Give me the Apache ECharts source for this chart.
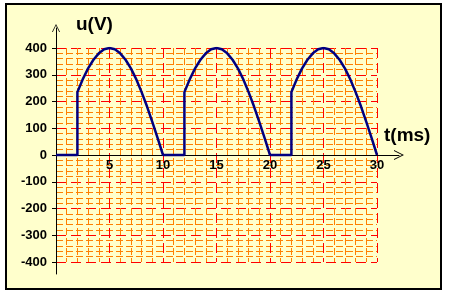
<!DOCTYPE html>
<html>
<head>
<meta charset="utf-8">
<script src="https://cdn.jsdelivr.net/npm/echarts@6/dist/echarts.min.js"></script>
<style>
  html, body { margin: 0; padding: 0; background: #fff; }
  #box {
    position: absolute; left: 5px; top: 3px; width: 433px; height: 283px;
    border: 2px solid #000; background: #ffffcc;
  }
  #chart { position: absolute; left: 0; top: 0; width: 452px; height: 294px; }
</style>
</head>
<body>
<div id="box"></div>
<div id="chart"></div>
<script>
// tick values
const xTicks = [0, 5, 10, 15, 20, 25, 30];
const yTicks = [-400, -300, -200, -100, 0, 100, 200, 300, 400];

// u(t), t in ms, u in V
const times = [
  0, 2, 2, 2.5, 3, 3.5, 4, 4.5, 5, 5.5, 6, 6.5, 7, 7.5, 8, 8.5, 9, 9.5, 10,
  12, 12, 12.5, 13, 13.5, 14, 14.5, 15, 15.5, 16, 16.5, 17, 17.5, 18, 18.5, 19, 19.5, 20,
  22, 22, 22.5, 23, 23.5, 24, 24.5, 25, 25.5, 26, 26.5, 27, 27.5, 28, 28.5, 29, 29.5, 30
];
const volts = [
  0, 0, 235, 283, 324, 356, 380, 395, 400, 395, 380, 356, 324, 283, 235, 182, 124, 63, 0,
  0, 235, 283, 324, 356, 380, 395, 400, 395, 380, 356, 324, 283, 235, 182, 124, 63, 0,
  0, 235, 283, 324, 356, 380, 395, 400, 395, 380, 356, 324, 283, 235, 182, 124, 63, 0
];

const font = "'Liberation Sans', Arial, sans-serif";
const chevron = 'path://M0,10 L5,0 L10,10 L9,10 L5,2 L1,10 Z';

const chart = echarts.init(document.getElementById('chart'));

const xMin = xTicks[0], xMax = xTicks[xTicks.length - 1];
const yMin = yTicks[0], yMax = yTicks[yTicks.length - 1];

chart.setOption({
  backgroundColor: 'transparent',
  animation: false,
  title: [
    { text: 'u(V)', left: 76, top: 15, padding: 0,
      textStyle: { fontFamily: font, fontSize: 19, fontWeight: 'bold', color: '#000' } },
    { text: 't(ms)', left: 384, top: 126, padding: 0,
      textStyle: { fontFamily: font, fontSize: 19, fontWeight: 'bold', color: '#000' } }
  ],
  grid: [
    // plot area with the grid lines
    { left: 56, top: 48, width: 321, height: 214 },
    // larger area for the arrowed axes
    { left: 56, top: 28, width: 343, height: 246 },
    // upper half, its bottom edge is the u = 0 line (x labels)
    { left: 56, top: 48, width: 321, height: 107 }
  ],
  xAxis: [
    {
      gridIndex: 0, type: 'value', min: xMin, max: xMax, interval: 5,
      axisLine: { show: false }, axisTick: { show: false }, axisLabel: { show: false },
      splitLine: { show: true, lineStyle: { color: '#ff0000', width: 1, type: [10, 5] } },
      minorTick: { show: false, splitNumber: 5 },
      minorSplitLine: { show: true, lineStyle: { color: '#ff8000', width: 1, type: [7, 3] } }
    },
    {
      gridIndex: 1, type: 'value', min: 0, max: 32.04,
      axisLine: { show: true, onZero: true, symbol: ['none', chevron], symbolSize: [10, 11],
        lineStyle: { color: '#000', width: 1 } },
      axisTick: { show: false }, axisLabel: { show: false }, splitLine: { show: false }
    },
    {
      gridIndex: 2, type: 'value', min: xMin, max: xMax, interval: 5, position: 'bottom',
      axisLine: { show: false, onZero: false }, axisTick: { show: false }, splitLine: { show: false },
      axisLabel: {
        show: true, margin: 4,
        fontFamily: font, fontSize: 13, fontWeight: 'bold', color: '#000',
        formatter: v => v === 0 ? '' : String(v)
      }
    }
  ],
  yAxis: [
    {
      gridIndex: 0, type: 'value', min: yMin, max: yMax, interval: 100,
      axisLine: { show: false },
      axisTick: { show: true, length: 4, lineStyle: { color: '#000' } },
      axisLabel: { show: true, margin: 9, fontFamily: font, fontSize: 13, fontWeight: 'bold', color: '#000' },
      splitLine: { show: true, lineStyle: { color: '#ff0000', width: 1, type: [10, 5] } },
      minorTick: { show: false, splitNumber: 5 },
      minorSplitLine: { show: true, lineStyle: { color: '#ff8000', width: 1, type: [7, 3] } }
    },
    {
      gridIndex: 1, type: 'value', min: -444.9, max: 474.8,
      axisLine: { show: true, onZero: true, symbol: ['none', chevron], symbolSize: [8, 10],
        lineStyle: { color: '#000', width: 1 } },
      axisTick: { show: false }, axisLabel: { show: false }, splitLine: { show: false }
    },
    {
      gridIndex: 2, type: 'value', min: 0, max: yMax, show: false
    }
  ],
  series: [
    {
      type: 'line',
      xAxisIndex: 0, yAxisIndex: 0,
      data: times.map((t, i) => [t, volts[i]]),
      showSymbol: false,
      lineStyle: { color: '#000080', width: 2.5 },
      z: 5
    }
  ]
});
</script>
</body>
</html>
